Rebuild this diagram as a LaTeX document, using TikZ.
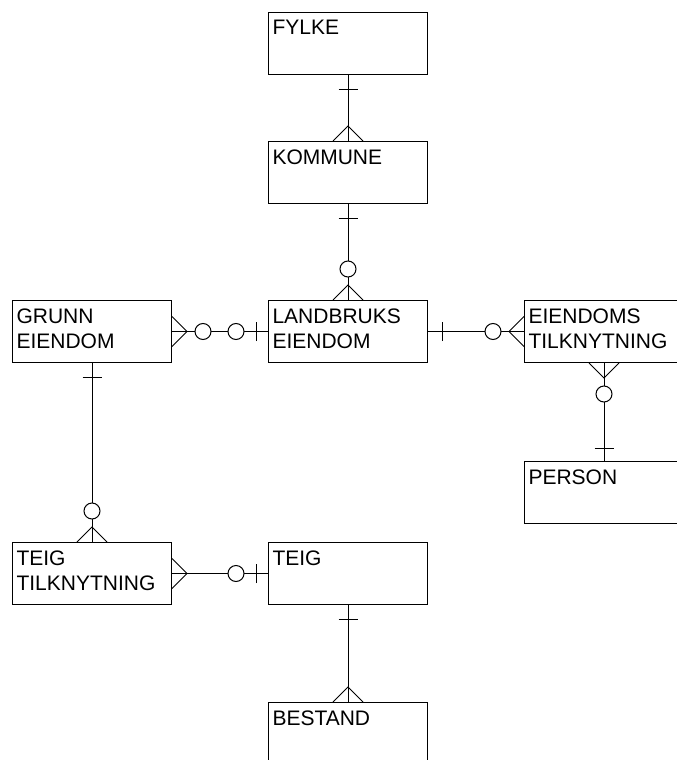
\documentclass[tikz,border=0pt]{standalone}
\usepackage{fontspec}
\setmainfont{Liberation Sans}
\usetikzlibrary{decorations.markings}

\newcommand\entityfont{\fontsize{21}{25}\selectfont}
\newcommand\ename[1]{\parbox[t][46pt][t]{151pt}{#1}}

\tikzset{
  entity/.style={draw, line width=1pt, anchor=north west, inner xsep=4pt, inner ysep=8pt, font=\entityfont},
  rel/.style={line width=1pt},
  tickat/.style={postaction={decorate, decoration={markings, mark=at position #1 with {\draw (0,-9.5pt) -- (0,9.5pt);}}}},
  ringat/.style={postaction={decorate, decoration={markings, mark=at position #1 with {\draw[fill=white] (0,0) circle[radius=8pt];}}}},
  % crow's foot at the start / end of a connector
  manystart/.style={postaction={decorate, decoration={markings, mark=at position 15pt with {\draw (-15pt,15pt) -- (0,0) -- (-15pt,-15pt);}}}},
  manyend/.style={postaction={decorate, decoration={markings, mark=at position -15pt with {\draw (15pt,15pt) -- (0,0) -- (15pt,-15pt);}}}},
  onestart/.style={tickat=14pt},
  oneend/.style={tickat=-13pt},
  zmanystart/.style={manystart, ringat=31pt},
  zmanyend/.style={manyend, ringat=-31pt},
  zoneend/.style={ringat=-32pt, tickat=-12pt}
}

\begin{document}
\begin{tikzpicture}[x=1pt, y=-1pt]
\useasboundingbox (0,0) rectangle (677,760);

% entities
\node[entity] (fylke) at (268,12) {\ename{FYLKE}};
\node[entity] (kommune) at (268,141) {\ename{KOMMUNE}};
\node[entity] (landbruk) at (268,300) {\ename{LANDBRUKS\\EIENDOM}};
\node[entity] (grunn) at (12,300) {\ename{GRUNN\\EIENDOM}};
\node[entity] (eiendomtilk) at (524,300) {\ename{EIENDOMS\\TILKNYTNING}};
\node[entity] (person) at (524,461) {\ename{PERSON}};
\node[entity] (teigtilk) at (12,542) {\ename{TEIG\\TILKNYTNING}};
\node[entity] (teig) at (268,542) {\ename{TEIG}};
\node[entity] (bestand) at (268,702) {\ename{BESTAND}};

% relations
\draw[rel, onestart, manyend] (fylke) -- (kommune);
\draw[rel, onestart, zmanyend] (kommune) -- (landbruk);
\draw[rel, zmanystart, zoneend] (grunn) -- (landbruk);
\draw[rel, onestart, zmanyend] (landbruk) -- (eiendomtilk);
\draw[rel, zmanystart, oneend] (eiendomtilk) -- (person);
\draw[rel, onestart, zmanyend] (grunn) -- (teigtilk);
\draw[rel, manystart, zoneend] (teigtilk) -- (teig);
\draw[rel, onestart, manyend] (teig) -- (bestand);
\end{tikzpicture}
\end{document}
